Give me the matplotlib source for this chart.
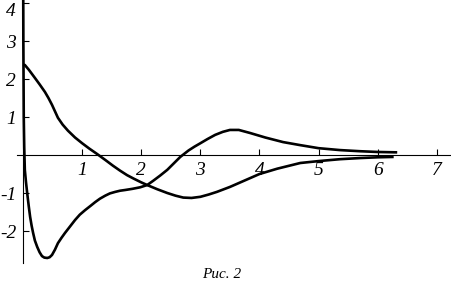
import matplotlib.pyplot as plt

# curve starting at 2.4 on the y axis
xa = [0.0, 0.03, 0.1, 0.2, 0.28, 0.37, 0.43, 0.49, 0.54, 0.59, 0.67, 0.76, 0.88, 1.0,
      1.12, 1.25, 1.4, 1.52, 1.64, 1.76, 1.87, 2.0, 2.1, 2.27, 2.44, 2.58, 2.71, 2.85,
      3.0, 3.14, 3.28, 3.5, 3.75, 4.0, 4.3, 4.69, 5.0, 5.36, 5.7, 6.0, 6.27]
ya = [2.38, 2.37, 2.24, 2.03, 1.86, 1.66, 1.5, 1.32, 1.15, 0.98, 0.8, 0.64, 0.46, 0.31,
      0.17, 0.03, -0.14, -0.28, -0.41, -0.53, -0.62, -0.72, -0.79, -0.9, -1.0, -1.07,
      -1.12, -1.13, -1.1, -1.04, -0.97, -0.84, -0.67, -0.5, -0.36, -0.21, -0.16, -0.11,
      -0.08, -0.06, -0.05]

# curve coming down from the top along the y axis
xb = [0.0, 0.005, 0.012, 0.02, 0.03, 0.05, 0.07, 0.095, 0.12, 0.145, 0.17, 0.2, 0.24,
      0.28, 0.32, 0.36, 0.41, 0.45, 0.49, 0.54, 0.59, 0.65, 0.71, 0.8, 0.88, 0.96,
      1.05, 1.14, 1.22, 1.3, 1.39, 1.47, 1.56, 1.64, 1.73, 1.85, 1.98, 2.1, 2.2,
      2.32, 2.44, 2.55, 2.66, 2.8, 2.9, 3.0, 3.12, 3.25, 3.38, 3.5, 3.65, 3.84, 4.1,
      4.4, 4.69, 5.0, 5.36, 5.7, 6.0, 6.33]
yb = [6.0, 3.0, 1.0, 0.2, -0.39, -0.72, -1.0, -1.33, -1.63, -1.86, -2.05, -2.25,
      -2.42, -2.56, -2.66, -2.7, -2.71, -2.69, -2.63, -2.49, -2.32, -2.18, -2.05,
      -1.87, -1.71, -1.57, -1.45, -1.34, -1.24, -1.15, -1.07, -1.01, -0.97, -0.94,
      -0.92, -0.89, -0.85, -0.79, -0.68, -0.54, -0.39, -0.22, -0.05, 0.12, 0.22, 0.31,
      0.42, 0.53, 0.61, 0.66, 0.66, 0.58, 0.46, 0.34, 0.26, 0.18, 0.13, 0.1, 0.08, 0.07]

xticks = [1, 2, 3, 4, 5, 6, 7]
yticks = [-2, -1, 1, 2, 3, 4]
ytick_labels = ['-2', '-1', '1', '2', '3', '4']

fig = plt.figure(figsize=(4.51, 2.88), dpi=100)
ax = fig.add_axes([0, 0, 1, 1])
ax.set_xlim(-0.39, 7.24)
ax.set_ylim(-3.5, 4.08)

ax.plot(xa, ya, color='black', lw=1.9, solid_capstyle='butt', solid_joinstyle='round')
ax.plot(xb, yb, color='black', lw=1.9, solid_capstyle='butt', solid_joinstyle='round')

for s in ['top', 'right']:
    ax.spines[s].set_visible(False)
ax.spines['left'].set_position(('data', 0))
ax.spines['bottom'].set_position(('data', 0))
ax.spines['left'].set_bounds(-2.84, 4.08)
ax.spines['bottom'].set_bounds(-0.1, 7.24)
ax.spines['left'].set_linewidth(0.8)
ax.spines['bottom'].set_linewidth(0.8)

tick_font = dict(family='Liberation Serif', style='italic', size=14)
ax.set_xticks(xticks)
ax.set_xticklabels([str(t) for t in xticks], fontdict=tick_font)
ax.set_yticks(yticks)
ax.set_yticklabels(ytick_labels, fontdict=tick_font)
ax.tick_params(direction='in', length=4, width=0.8, pad=5)
# top label sits just under the upper edge
ax.get_yticklabels()[-1].set_va('top')

fig.text(222 / 451, 1 - 275 / 288, 'Рис. 2', family='Liberation Serif', style='italic',
         size=11, ha='center', va='center')

fig.savefig('out.png', dpi=100)
